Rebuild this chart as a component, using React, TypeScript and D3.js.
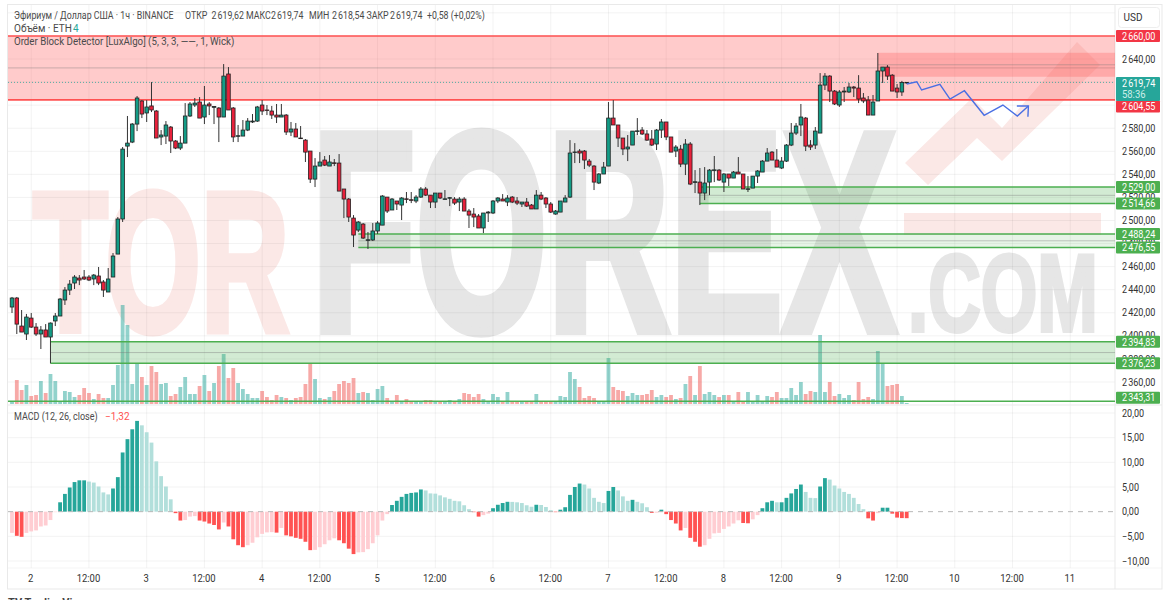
import { useEffect, useRef } from 'react';
import * as d3 from 'd3';

const opens = [
  2425, 2432.8, 2408.5, 2401.6, 2415.4, 2407.6, 2401.6, 2405.1, 2399, 2412.9,
  2417.2, 2431.1, 2439.7, 2445.8, 2450.1, 2451, 2451, 2449.3, 2451.9, 2446.7,
  2438, 2451, 2470.9, 2501.3, 2564.5, 2568, 2583.6, 2603.6, 2593.2, 2599.3,
  2594.9, 2572.4, 2573.2, 2581, 2568.9, 2562.8, 2567.1, 2590.6, 2600.1, 2602.7,
  2589.7, 2601, 2598.1, 2597.5, 2589.7, 2627, 2597.5, 2573, 2573.2, 2578.4,
  2585.4, 2586.2, 2600.1, 2595.8, 2594.9, 2591.4, 2589.7, 2591.4, 2576.7, 2579.3,
  2571.5, 2569.7, 2560.2, 2535.9, 2547.2, 2552.4, 2547.2, 2550, 2549.8, 2527.3,
  2518.6, 2502.1, 2491.7, 2496.9, 2482.9, 2483.1, 2490.9, 2496, 2520.3, 2509.1,
  2516.9, 2513.4, 2518.8, 2518, 2516.9, 2520.3, 2527.3, 2522, 2516, 2523.8,
  2518.4, 2519.3, 2518.6, 2516, 2518.6, 2508.2, 2505.6, 2503.9, 2493.5, 2506.5,
  2506.5, 2516.9, 2518.6, 2516, 2520.3, 2516.9, 2514.3, 2516, 2513.4, 2510,
  2522, 2519.5, 2514.3, 2505.6, 2507.3, 2516, 2520.3, 2559, 2560.2, 2560.2,
  2551.5, 2547.2, 2532.5, 2540.3, 2547.2, 2588.8, 2582.8, 2571.5, 2562, 2565.4,
  2577.3, 2578.4, 2575, 2570.6, 2566.3, 2578.4, 2585.4, 2572.4, 2560.2, 2561.9,
  2548.9, 2566.3, 2533, 2533.3, 2523.8, 2533.3, 2543.5, 2543.7, 2533.3, 2540.3,
  2536.8, 2542, 2540.3, 2527, 2528.1, 2538.5, 2542, 2551.5, 2559.3, 2552.4,
  2545.5, 2551.5, 2565.4, 2575.8, 2582.8, 2588.8, 2565.4, 2565.4, 2575.8, 2617.4,
  2625.2, 2612.2, 2600.1, 2611.4, 2611.4, 2615.7, 2614.8, 2606.2, 2604.4, 2591.4,
  2603.6, 2629.6, 2633, 2626, 2614.8, 2611.4, 2619.62,
];

const closes = [
  2432.8, 2410.2, 2403.3, 2416.3, 2407.6, 2401.6, 2405.1, 2399, 2411.1, 2417.2,
  2431.9, 2439.7, 2444.9, 2451, 2448.4, 2449.3, 2448.4, 2452.7, 2445.8, 2439.7,
  2449.3, 2469.2, 2501.3, 2561.9, 2567.1, 2583.6, 2606.2, 2592.3, 2598.4, 2595.8,
  2571.5, 2574.1, 2582.8, 2568.9, 2562.8, 2567.1, 2590.6, 2601, 2601.8, 2588.8,
  2600.1, 2599.3, 2598.8, 2589.7, 2625.2, 2595.8, 2572.4, 2573.5, 2578.4, 2586.2,
  2586.2, 2598.4, 2594.9, 2595.3, 2591.4, 2589.7, 2591.4, 2576.7, 2579.3, 2572.4,
  2571.1, 2559.3, 2535.9, 2547.2, 2550.7, 2548, 2550.7, 2549.7, 2525.5, 2518.6,
  2503, 2487.4, 2498.7, 2484.8, 2483.3, 2490.9, 2497.8, 2521.2, 2508.2, 2518.6,
  2514.3, 2519.5, 2518.3, 2517.5, 2520.3, 2527.3, 2522, 2516, 2523.8, 2519.5,
  2518.8, 2519.8, 2515.1, 2518.6, 2508.2, 2504.7, 2503, 2493.5, 2506.5, 2507.3,
  2516.9, 2519.5, 2516.9, 2519.5, 2516, 2515.1, 2516, 2512.5, 2510, 2522,
  2518.6, 2514.3, 2507.3, 2508.2, 2516.9, 2519.5, 2558.5, 2559.4, 2558.5, 2552.4,
  2548, 2533.3, 2540.3, 2546.3, 2588.8, 2582.8, 2571.5, 2562, 2563.7, 2577.5,
  2577.7, 2575, 2569.7, 2565.4, 2578.4, 2585.4, 2572.4, 2559.3, 2563.7, 2548.9,
  2566.3, 2531.6, 2533.6, 2523.8, 2532.5, 2543.7, 2543.9, 2535.1, 2540.3, 2536.8,
  2542, 2540.3, 2527.3, 2527.5, 2538.5, 2542.9, 2551.5, 2558.5, 2552.4, 2546.3,
  2551.5, 2565.4, 2575.8, 2581.9, 2589.7, 2564.5, 2563.7, 2577.5, 2617.4, 2625.2,
  2612.2, 2601, 2611.4, 2612.2, 2615.7, 2614.8, 2605.3, 2603.6, 2591.4, 2602.7,
  2629.6, 2633, 2625.2, 2612.2, 2611.4, 2619.6, 2619.74,
];

const highs = [
  2433.7, 2433.7, 2422.4, 2419, 2419.8, 2411.1, 2408.5, 2410.2, 2411.6, 2419.8,
  2432.8, 2442.3, 2448.4, 2452.7, 2452.7, 2457.1, 2452.7, 2453.6, 2459.7, 2448.4,
  2458.8, 2471.8, 2503, 2563.7, 2590.6, 2584.5, 2607.9, 2604.4, 2604.4, 2620,
  2595.8, 2578.4, 2586.2, 2581.9, 2569.7, 2573.2, 2601.8, 2602.7, 2606.2, 2607,
  2616.6, 2602.7, 2599, 2598.4, 2635.6, 2633, 2598.4, 2582.8, 2587.1, 2588.8,
  2592.3, 2599.3, 2604.4, 2600.1, 2599.3, 2601, 2601, 2592.3, 2585.4, 2584.5,
  2581.9, 2570.6, 2560.2, 2554.1, 2559.3, 2555.9, 2556.7, 2553.3, 2557.6, 2527.3,
  2519.5, 2504.7, 2499.5, 2497.8, 2490, 2497.8, 2499.5, 2522, 2520.3, 2519.5,
  2516.9, 2520.3, 2524.7, 2524.7, 2522, 2529, 2529, 2522, 2523.8, 2523.8,
  2526.4, 2520.3, 2520.3, 2520.3, 2520.3, 2510, 2510.8, 2505.6, 2506.5, 2508.2,
  2517.7, 2520.3, 2522.9, 2522, 2521.2, 2520.3, 2516, 2519.5, 2514.3, 2526.4,
  2524.7, 2520.3, 2516, 2509.1, 2516.9, 2522, 2569.7, 2567.1, 2561.9, 2561.1,
  2553.3, 2548, 2541.1, 2550.7, 2602.7, 2604.4, 2582.8, 2571.5, 2574.1, 2577.5,
  2588.8, 2581, 2578.4, 2578.4, 2579.3, 2588, 2585.4, 2572.4, 2565.4, 2565.4,
  2570.6, 2568, 2543.7, 2545.5, 2546.3, 2544.6, 2555.9, 2544.6, 2541.1, 2540.3,
  2542.9, 2555, 2540.3, 2538.5, 2538.5, 2543.7, 2552.4, 2562.8, 2560.2, 2561.9,
  2555, 2566.3, 2584.5, 2584.5, 2601, 2589.7, 2569.7, 2581, 2627.8, 2627.8,
  2626, 2613.1, 2613.1, 2615.7, 2619.2, 2616.6, 2626, 2610.5, 2607.9, 2608.8,
  2645.2, 2633, 2634.7, 2626.9, 2618.3, 2621, 2619.74,
];

const lows = [
  2419.8, 2401.6, 2403.3, 2396.4, 2406.8, 2399.9, 2388.6, 2399, 2376.2, 2408.5,
  2417.2, 2426.8, 2435.4, 2440.6, 2444, 2448.4, 2447.5, 2444, 2444, 2433.7,
  2438, 2451, 2470.9, 2498.7, 2555, 2567.1, 2577.5, 2588.8, 2585.4, 2594,
  2571.5, 2565.4, 2566.3, 2558.5, 2561.9, 2561.1, 2567.1, 2589.7, 2598.4, 2588.8,
  2583.6, 2591.4, 2583.6, 2568, 2589.7, 2595.8, 2568, 2568, 2573.2, 2577.5,
  2584.5, 2585.4, 2591.4, 2591.4, 2588, 2584.5, 2589.7, 2574.1, 2573.2, 2572.4,
  2570.6, 2550.7, 2532.5, 2529, 2547.2, 2547.2, 2547.2, 2547.2, 2525.5, 2502.1,
  2498.7, 2477, 2490, 2484, 2475.3, 2482.2, 2488.3, 2496, 2506.5, 2509.1,
  2509.1, 2500.4, 2515.1, 2515.1, 2515.1, 2519.5, 2521.2, 2510.8, 2510.8, 2518.6,
  2518.4, 2512.5, 2513.4, 2508.2, 2508.2, 2493.5, 2494.3, 2493.5, 2489.1, 2498.7,
  2505.6, 2515.1, 2516.9, 2512.5, 2515.1, 2513.4, 2511.7, 2511.7, 2510, 2510,
  2517.7, 2510.8, 2506.5, 2505, 2507.3, 2516, 2519.5, 2549.8, 2549.8, 2544.6,
  2546.3, 2526.4, 2531.6, 2540.3, 2547.2, 2582.8, 2563.7, 2556.7, 2551.5, 2565.4,
  2574.1, 2574.1, 2568.9, 2564.5, 2561.1, 2571.5, 2569.7, 2559.3, 2555, 2546.3,
  2539.4, 2530.7, 2523.8, 2513.4, 2517.7, 2522, 2533.3, 2534.2, 2524.7, 2529.9,
  2536.8, 2540.3, 2527.3, 2524.7, 2528.1, 2532.5, 2542, 2551.5, 2552.4, 2546.3,
  2544.6, 2550.7, 2564.5, 2574.1, 2573.2, 2560.2, 2561.1, 2562, 2575.8, 2613.1,
  2602.7, 2600.1, 2598.4, 2602.7, 2610.5, 2607, 2601.8, 2601.8, 2591.4, 2591.4,
  2603.6, 2619.2, 2621.8, 2612.2, 2606.2, 2608, 2618.54,
];

// volume only matters relative to the tallest bar
const volumes = [
  2, 24, 14, 19, 8, 9, 23, 11, 30, 23,
  3, 13, 12, 7, 9, 16, 11, 5, 10, 6,
  6, 19, 39, 99, 79, 20, 40, 27, 19, 38,
  32, 20, 21, 8, 10, 17, 27, 10, 10, 18,
  29, 13, 21, 38, 50, 26, 36, 21, 15, 10,
  6, 6, 13, 7, 4, 9, 7, 6, 4, 6,
  7, 20, 40, 25, 6, 5, 7, 13, 20, 23,
  21, 26, 11, 12, 11, 4, 15, 18, 6, 2,
  9, 3, 5, 2, 2, 3, 4, 4, 3, 2,
  2, 4, 3, 5, 11, 10, 7, 10, 5, 2,
  10, 7, 3, 12, 2, 3, 2, 2, 2, 10,
  3, 3, 2, 2, 8, 7, 32, 25, 17, 6,
  8, 6, 3, 2, 46, 17, 14, 13, 8, 11,
  9, 9, 10, 14, 7, 9, 7, 9, 5, 6,
  20, 28, 9, 38, 10, 12, 9, 7, 9, 9,
  2, 12, 3, 12, 2, 9, 2, 8, 7, 12,
  6, 6, 16, 9, 22, 10, 13, 12, 69, 12,
  22, 8, 10, 6, 9, 4, 22, 5, 7, 5,
  53, 40, 18, 19, 20, 8, 1,
];

const macdHist = [
  -4.3, -4.9, -5.1, -4.3, -4, -3.8, -3, -2.8, -1.7, -0.1,
  1.9, 3.6, 4.9, 6, 6.35, 6.35, 6.1, 5.9, 5.1, 3.9,
  3.5, 4.7, 7, 12, 14.7, 16.7, 18.4, 17.5, 16.1, 14,
  10.2, 7.2, 5.1, 2.5, -0.3, -1.8, -1.7, -1, -0.9, -1.8,
  -2, -2.4, -2.7, -3.6, -2.2, -3, -5.6, -6.8, -7.2, -6.8,
  -6.3, -5.2, -4.5, -4.2, -4.15, -4.25, -3.3, -4.8, -5, -5.3,
  -5.5, -6.1, -7.8, -7.75, -7.2, -6.6, -5.8, -5.4, -5.8, -6.4,
  -7.5, -8.6, -8.25, -8.2, -7.6, -6.4, -4.8, -1.8, -0.5, 1.35,
  2.2, 3, 3.6, 3.8, 3.9, 4.5, 4.3, 3.7, 3.65, 3.3,
  2.9, 2.6, 2.2, 2.1, 1.3, 0.5, -0.1, -1, -0.7, -0.4,
  0.7, 1.4, 1.75, 2, 1.98, 1.9, 1.75, 1.3, 1, 1.4,
  1.35, 0.95, 0.3, -0.1, 0.4, 0.9, 3.4, 5, 5.7, 5.5,
  4.7, 2.8, 2, 1.75, 4.2, 5, 4.3, 3.1, 2.2, 2.4,
  2, 1.7, 0.9, -0.25, -0.2, 0.4, -0.5, -1.7, -2.4, -3.8,
  -3.3, -5.3, -6.1, -7.1, -6.8, -5.5, -4.4, -4.3, -3.5, -3,
  -2.4, -1.75, -2.3, -2.35, -1.55, -0.7, 0.7, 1.9, 2.2, 1.9,
  1.9, 2.8, 3.7, 4.6, 5.5, 4, 2.8, 2.75, 5.1, 6.8,
  6.5, 5.3, 4.7, 4, 3.6, 2.8, 1.55, 0.5, -1.35, -1.8,
  -0.3, 0.8, 0.8, -0.4, -1.2, -1.3, -1.32,
];

const timeLabels = ['2', '12:00', '3', '12:00', '4', '12:00', '5', '12:00', '6', '12:00', '7', '12:00', '8', '12:00', '9', '12:00', '10', '12:00', '11'];
const timeBars = [4, 16, 28, 40, 52, 64, 76, 88, 100, 112, 124, 136, 148, 160, 172, 184, 196, 208, 220];
const priceTicks = [2680, 2660, 2640, 2620, 2600, 2580, 2560, 2540, 2520, 2500, 2480, 2460, 2440, 2420, 2400, 2380, 2360];
const macdTicks = [20, 15, 10, 5, 0, -5, -10];

// order blocks: [top price, bottom price, first bar]
const redBlocks = [
  [2660, 2604.55, -2],
  [2645.4, 2624.6, 180],
];
const greenBlocks = [
  [2529, 2514.66, 143],
  [2488.24, 2476.55, 72],
  [2394.83, 2376.23, 8],
];
const greenLevel = 2343.31;
const lastPrice = 2619.74;

const forecastBars = [186, 188.1, 189.1, 192.9, 195, 198, 202.1, 206, 209, 211.3];
const forecastPrices = [2618.3, 2620.3, 2613.1, 2618, 2605.3, 2612.5, 2591.2, 2600.1, 2590.6, 2599.2];

const redLabels = [2660, 2604.55];
const greenLabels = [2529, 2514.66, 2488.24, 2476.55, 2394.83, 2376.23, 2343.31];

const headerParts = [
  ['Эфириум / Доллар США · 1ч · BINANCE', 14],
  ['ОТКР', 185],
  ['2\u202f619,62', 211.5],
  ['МАКС', 246],
  ['2\u202f619,74', 271],
  ['МИН', 309],
  ['2\u202f618,54', 332],
  ['ЗАКР', 366.5],
  ['2\u202f619,74', 390],
  ['+0,58 (+0,02%)', 427],
];

const font = 'Roboto, "Noto Sans", sans-serif';
const green = '#139c86';
const red = '#e8213b';

// the reference font is narrower than anything installed, so squeeze the glyphs
const squeeze = (sel, ratio) =>
  sel.each(function () {
    this.setAttribute('textLength', this.getComputedTextLength() * ratio);
    this.setAttribute('lengthAdjust', 'spacingAndGlyphs');
  });

const App = () => {
  const svgRef = useRef(null);

  useEffect(() => {
    const width = 1170;
    const height = 600;
    const plotLeft = 8;
    const plotRight = 1115;
    const frameRight = 1162;
    const mainBottom = 404;
    const macdBottom = 568;
    const frameBottom = 589;

    const svg = d3.select(svgRef.current);
    svg.selectAll('*').remove();

    const defs = svg.append('defs');
    defs.append('clipPath').attr('id', 'main-clip').append('rect')
      .attr('x', plotLeft).attr('y', 5).attr('width', plotRight - plotLeft).attr('height', mainBottom - 5);
    defs.append('clipPath').attr('id', 'page-clip').append('rect')
      .attr('x', 0).attr('y', 0).attr('width', width).attr('height', height);

    // scales
    const x = d3.scaleLinear().domain([0, 186]).range([12, 906.7]);
    const y = d3.scaleLinear().domain([2640, 2360]).range([59, 382]);
    const vol = d3.scaleLinear().domain([0, 100]).range([mainBottom, mainBottom - 100]);
    const macdY = d3.scaleLinear().domain([20, -10]).range([413, 561]);

    const locale = d3.formatLocale({ decimal: ',', thousands: '\u202f', grouping: [3], currency: ['', ''] });
    const fmt = locale.format(',.2f');

    svg.append('rect').attr('width', width).attr('height', height).attr('fill', '#fff');

    // Watermark
    const mark = svg.append('g').attr('font-family', '"Liberation Sans Narrow", "Liberation Sans", sans-serif').attr('font-weight', 700);
    mark.append('polygon')
      .attr('points', '905,163 972,98 1002,128 1077,42 1100,65 1002,161 977,138 928,185')
      .attr('fill', '#fbe8e6');
    mark.append('rect').attr('x', 904).attr('y', 213).attr('width', 197).attr('height', 22).attr('fill', '#fbe8e6');
    mark.append('text').text('TOR').attr('x', 33).attr('y', 330.5).attr('font-size', 198)
      .attr('textLength', 256).attr('lengthAdjust', 'spacingAndGlyphs')
      .attr('fill', '#fbe8e6').attr('stroke', '#fbe8e6').attr('stroke-width', 7);
    mark.append('text').text('FOREX').attr('x', 312).attr('y', 330).attr('font-size', 283)
      .attr('textLength', 584).attr('lengthAdjust', 'spacingAndGlyphs')
      .attr('fill', '#e6e6e6').attr('stroke', '#e6e6e6').attr('stroke-width', 10);
    mark.append('text').text('.COM').attr('x', 908).attr('y', 331).attr('font-size', 110)
      .attr('textLength', 190).attr('lengthAdjust', 'spacingAndGlyphs')
      .attr('fill', '#e6e6e6').attr('stroke', '#e6e6e6').attr('stroke-width', 4);

    // Frame and grid
    const grid = svg.append('g').attr('stroke', '#000').attr('stroke-opacity', 0.05).attr('stroke-width', 1);
    priceTicks.forEach((t) => {
      grid.append('line').attr('x1', plotLeft).attr('x2', plotRight).attr('y1', y(t)).attr('y2', y(t));
    });
    macdTicks.forEach((t) => {
      if (t !== 0) grid.append('line').attr('x1', plotLeft).attr('x2', plotRight).attr('y1', macdY(t)).attr('y2', macdY(t));
    });
    timeBars.forEach((b) => {
      grid.append('line').attr('x1', x(b)).attr('x2', x(b)).attr('y1', 5).attr('y2', macdBottom);
    });

    const frame = svg.append('g').attr('stroke', '#e9e9e9').attr('fill', 'none');
    frame.append('rect').attr('x', 7.5).attr('y', 4.5).attr('width', frameRight - 7.5).attr('height', frameBottom - 4.5);
    frame.append('line').attr('x1', plotRight).attr('x2', plotRight).attr('y1', 5).attr('y2', frameBottom);
    frame.append('line').attr('x1', plotLeft).attr('x2', frameRight).attr('y1', mainBottom + 1).attr('y2', mainBottom + 1);
    frame.append('line').attr('x1', plotLeft).attr('x2', frameRight).attr('y1', macdBottom).attr('y2', macdBottom).attr('stroke-opacity', 0.4);

    // Volume
    const main = svg.append('g').attr('clip-path', 'url(#main-clip)');
    main.selectAll('.vol').data(volumes).join('rect')
      .attr('x', (_, i) => x(i) - 1.9)
      .attr('width', 3.8)
      .attr('y', (d) => vol(d))
      .attr('height', (d) => vol(0) - vol(d))
      .attr('fill', (_, i) => (closes[i] >= opens[i] ? 'rgba(38,166,154,0.5)' : 'rgba(239,83,80,0.5)'));

    // Order blocks
    const drawBlock = (block, color, fillOpacity, edge) => {
      const [top, bottom, from] = block;
      const g = main.append('g');
      g.append('rect').attr('x', x(from)).attr('width', plotRight - x(from))
        .attr('y', y(top)).attr('height', y(bottom) - y(top))
        .attr('fill', color).attr('fill-opacity', fillOpacity);
      g.append('line').attr('x1', x(from)).attr('x2', plotRight)
        .attr('y1', y((top + bottom) / 2)).attr('y2', y((top + bottom) / 2))
        .attr('stroke', '#777').attr('stroke-opacity', 0.4);
      if (edge > 0) {
        [top, bottom].forEach((p) => {
          g.append('line').attr('x1', x(from)).attr('x2', plotRight).attr('y1', y(p)).attr('y2', y(p))
            .attr('stroke', color).attr('stroke-width', edge);
        });
      }
    };
    drawBlock(redBlocks[0], '#ff5252', 0.3, 1.6);
    drawBlock(redBlocks[1], '#ff5252', 0.28, 0);
    drawBlock(greenBlocks[0], '#4caf50', 0.25, 1.5);
    drawBlock(greenBlocks[1], '#4caf50', 0.14, 1.5);
    drawBlock(greenBlocks[2], '#4caf50', 0.25, 1.6);
    main.append('line').attr('x1', plotLeft).attr('x2', plotRight).attr('y1', y(greenLevel)).attr('y2', y(greenLevel))
      .attr('stroke', '#4caf50').attr('stroke-width', 1.5);

    // Last price line
    main.append('line').attr('x1', plotLeft).attr('x2', plotRight).attr('y1', y(lastPrice)).attr('y2', y(lastPrice))
      .attr('stroke', '#26a69a').attr('stroke-dasharray', '1 2').attr('stroke-width', 0.8);

    // Candles
    const candles = main.append('g');
    opens.forEach((o, i) => {
      const c = closes[i];
      candles.append('line').attr('x1', x(i)).attr('x2', x(i))
        .attr('y1', y(highs[i])).attr('y2', y(lows[i]))
        .attr('stroke', '#333').attr('stroke-width', 1);
      candles.append('rect').attr('x', x(i) - 1.8).attr('width', 3.6)
        .attr('y', y(Math.max(o, c)))
        .attr('height', Math.max(Math.abs(y(o) - y(c)), 0.6))
        .attr('fill', c >= o ? green : red)
        .attr('stroke', '#222').attr('stroke-width', 0.8);
    });

    // Forecast arrow
    const forecastLine = d3.line().x((d) => x(d[0])).y((d) => y(d[1]));
    const forecast = forecastBars.map((b, i) => [b, forecastPrices[i]]);
    const tip = forecast[forecast.length - 1];
    main.append('path').attr('d', forecastLine(forecast))
      .attr('fill', 'none').attr('stroke', '#4a6fe3').attr('stroke-width', 1.4);
    main.append('path').attr('d', forecastLine([[tip[0] - 2.4, tip[1]], tip, [tip[0] - 0.1, tip[1] - 9.2]]))
      .attr('fill', 'none').attr('stroke', '#4a6fe3').attr('stroke-width', 1.4);

    // MACD histogram
    const macdColor = (d, i) => {
      const rising = i === 0 || d >= macdHist[i - 1];
      if (d >= 0) return rising ? '#26a69a' : '#b2dfdb';
      return rising ? '#ffcdd2' : '#ff5252';
    };
    svg.append('g').selectAll('rect').data(macdHist).join('rect')
      .attr('x', (_, i) => x(i) - 1.9)
      .attr('width', 3.8)
      .attr('y', (d) => Math.min(macdY(d), macdY(0)))
      .attr('height', (d) => Math.abs(macdY(d) - macdY(0)))
      .attr('fill', macdColor);
    svg.append('line').attr('x1', plotLeft).attr('x2', plotRight).attr('y1', macdY(0)).attr('y2', macdY(0))
      .attr('stroke', '#b8b8b8').attr('stroke-dasharray', '5 5');

    // Price axis
    const axis = svg.append('g').attr('font-family', font).attr('font-size', 10.5).attr('fill', '#333');
    priceTicks.slice(2).forEach((t) => {
      axis.append('text').text(fmt(t)).attr('x', 1122).attr('y', y(t) + 3.6).call(squeeze, 0.86);
    });
    macdTicks.forEach((t) => {
      axis.append('text').text(fmt(t)).attr('x', 1122).attr('y', macdY(t) + 3.6).call(squeeze, 0.86);
    });

    // Tags are pushed apart where they would collide
    const tagNudge = { 2604.55: 6.5, 2343.31: -3.5 };
    const drawTag = (price, fill) => {
      const cy = y(price) + (tagNudge[price] || 0);
      svg.append('rect').attr('x', 1116).attr('y', cy - 6).attr('width', 44).attr('height', 12).attr('fill', fill).attr('rx', 1);
      svg.append('text').text(fmt(price)).attr('x', 1122).attr('y', cy + 3.7)
        .attr('font-family', font).attr('font-size', 10.5).attr('fill', '#fff').call(squeeze, 0.86);
    };
    redLabels.forEach((p) => drawTag(p, '#f23645'));
    greenLabels.forEach((p) => drawTag(p, '#4caf50'));

    svg.append('rect').attr('x', 1116).attr('y', 77).attr('width', 44).attr('height', 24).attr('fill', '#26a69a').attr('rx', 1);
    svg.append('text').text(fmt(lastPrice)).attr('x', 1122).attr('y', 86.5)
      .attr('font-family', font).attr('font-size', 10.5).attr('fill', '#fff').call(squeeze, 0.86);
    svg.append('text').text('58:36').attr('x', 1122).attr('y', 97.5)
      .attr('font-family', font).attr('font-size', 10.5).attr('fill', '#cdeee9').call(squeeze, 0.9);

    svg.append('rect').attr('x', 1118.5).attr('y', 7.5).attr('width', 41).attr('height', 20).attr('rx', 3)
      .attr('fill', '#fff').attr('stroke', '#eeeeee');
    svg.append('text').text('USD').attr('x', 1133).attr('y', 21)
      .attr('font-family', font).attr('font-size', 10).attr('fill', '#333').attr('text-anchor', 'middle');

    // Time axis
    timeLabels.forEach((label, i) => {
      svg.append('text').text(label).attr('x', x(timeBars[i]) - 0.5).attr('y', 582)
        .attr('font-family', font).attr('font-size', 10.5).attr('fill', '#333').attr('text-anchor', 'middle')
        .call(squeeze, 0.9);
    });

    // Legends
    const legend = svg.append('g').attr('font-family', font).attr('font-size', 10).attr('fill', '#4a4a4a');
    headerParts.forEach(([label, lx]) => {
      legend.append('text').text(label).attr('x', lx).attr('y', 19).call(squeeze, 0.88);
    });
    legend.append('text').text('Объём · ETH').attr('x', 14).attr('y', 32);
    legend.append('text').text('4').attr('x', 73).attr('y', 32).attr('fill', '#26a69a');
    legend.append('text').text('Order Block Detector [LuxAlgo] (5, 3, 3, ——, 1, Wick)').attr('x', 14).attr('y', 45).call(squeeze, 0.97);
    legend.append('text').text('MACD (12, 26, close)').attr('x', 14).attr('y', 420).call(squeeze, 0.9);
    legend.append('text').text('−1,32').attr('x', 105).attr('y', 420).attr('fill', '#ff5252');

    // Credit line, cut off by the bottom of the screenshot
    svg.append('text').text('TV TradingView').attr('x', 8).attr('y', 606)
      .attr('font-family', font).attr('font-size', 11).attr('font-weight', 700).attr('fill', '#444')
      .attr('clip-path', 'url(#page-clip)');
  }, []);

  return (
    <div>
      <style>{'body{margin:0}'}</style>
      <svg ref={svgRef} width={1170} height={600} style={{ display: 'block' }} />
    </div>
  );
};

export default App;
